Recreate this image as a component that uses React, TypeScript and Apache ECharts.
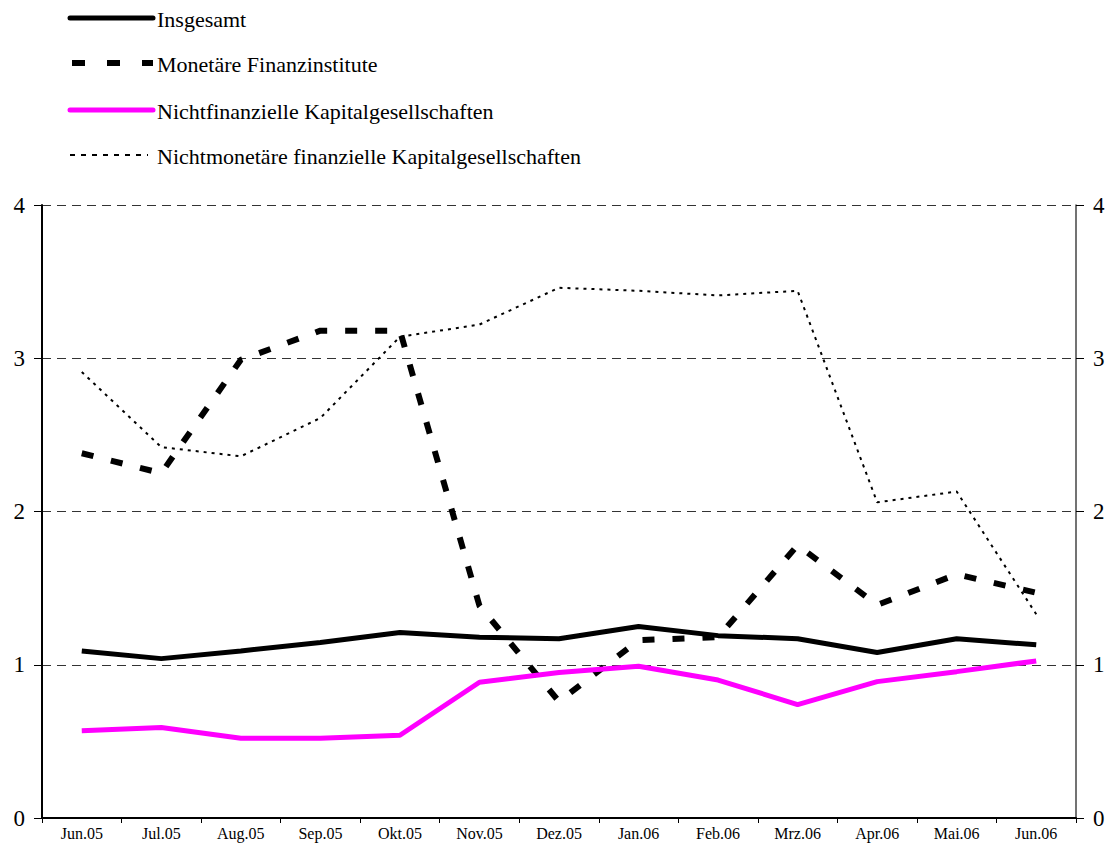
import React, { useEffect, useRef } from "react";
import * as echarts from "echarts";

const categories = ["Jun.05", "Jul.05", "Aug.05", "Sep.05", "Okt.05", "Nov.05", "Dez.05", "Jan.06", "Feb.06", "Mrz.06", "Apr.06", "Mai.06", "Jun.06"];
const insgesamt = [1.09, 1.04, 1.09, 1.145, 1.21, 1.18, 1.17, 1.25, 1.19, 1.17, 1.08, 1.17, 1.13];
const monetaere = [2.38, 2.25, 2.99, 3.18, 3.18, 1.385, 0.76, 1.16, 1.18, 1.78, 1.39, 1.59, 1.47];
const nichtfinanzielle = [0.57, 0.59, 0.52, 0.52, 0.54, 0.886, 0.95, 0.99, 0.9, 0.74, 0.89, 0.955, 1.025];
const nichtmonetaere = [2.91, 2.42, 2.36, 2.61, 3.14, 3.22, 3.46, 3.44, 3.41, 3.44, 2.06, 2.13, 1.33];
const names = ["Insgesamt", "Monetäre Finanzinstitute", "Nichtfinanzielle Kapitalgesellschaften", "Nichtmonetäre finanzielle Kapitalgesellschaften"];

const FONT = "'Liberation Serif', 'Times New Roman', serif";

const lineStyles = [
  { color: "#000", width: 5, type: "solid" as any },
  { color: "#000", width: 6, type: [12, 18] as any },
  { color: "#ff00ff", width: 5, type: "solid" as any },
  { color: "#000", width: 2, type: [3, 5] as any },
];

export default function App() {
  const ref = useRef<HTMLDivElement>(null);
  useEffect(() => {
    if (!ref.current) return;
    const chart = echarts.init(ref.current, null, { renderer: "svg" });
    const yAxisCommon = {
      type: "value",
      min: 0,
      max: 4,
      interval: 1,
      axisLabel: { color: "#000", fontFamily: FONT, fontSize: 23, margin: 17 },
      axisTick: { show: true, inside: false, length: 8, lineStyle: { color: "#000", width: 1 } },
    };
    const legendRowsY = [18, 63, 110, 155];
    const legendGraphics: any[] = [];
    names.forEach((n, i) => {
      const ls = lineStyles[i];
      const dash = Array.isArray(ls.type) ? ls.type : null;
      legendGraphics.push({
        type: "line",
        shape: { x1: i === 1 ? 72 : 70, y1: legendRowsY[i], x2: i === 3 ? 148 : 153, y2: legendRowsY[i] },
        style: { stroke: ls.color, lineWidth: ls.width, lineDash: i === 1 ? [13, 22] : i === 3 ? [5, 6] : dash, lineCap: i === 0 || i === 2 ? "round" : "butt" },
      });
      legendGraphics.push({
        type: "text",
        x: 157,
        y: legendRowsY[i] + 1,
        style: { text: n, fill: "#000", font: `22px ${FONT}`, textVerticalAlign: "middle", verticalAlign: "middle" },
      });
    });
    chart.setOption({
      animation: false,
      backgroundColor: "#fff",
      textStyle: { fontFamily: FONT },
      graphic: legendGraphics,
      grid: { left: 42, right: 39, top: 205, bottom: 32, containLabel: false },
      xAxis: {
        type: "category",
        data: categories,
        boundaryGap: true,
        axisLine: { show: true, lineStyle: { color: "#000", width: 2 } },
        axisTick: { show: true, length: 5, lineStyle: { color: "#000", width: 1 } },
        axisLabel: { color: "#000", fontFamily: FONT, fontSize: 16, margin: 7, interval: 0 },
      },
      yAxis: [
        {
          ...yAxisCommon,
          position: "left",
          axisLine: { show: true, lineStyle: { color: "#000", width: 2 } },
          splitLine: { show: true, lineStyle: { color: "#333", width: 1, type: [9, 6] } },
        },
        {
          ...yAxisCommon,
          position: "right",
          axisLine: { show: true, lineStyle: { color: "#444", width: 1.5 } },
          splitLine: { show: false },
        },
      ],
      series: [
        { name: names[0], type: "line", data: insgesamt, symbol: "none", lineStyle: lineStyles[0], z: 4 },
        { name: names[1], type: "line", data: monetaere, symbol: "none", lineStyle: lineStyles[1], z: 3 },
        { name: names[2], type: "line", data: nichtfinanzielle, symbol: "none", lineStyle: lineStyles[2], z: 5 },
        { name: names[3], type: "line", data: nichtmonetaere, symbol: "none", lineStyle: lineStyles[3], z: 2 },
      ],
    });
    return () => chart.dispose();
  }, []);
  return <div ref={ref} style={{ position: "absolute", left: 0, top: 0, width: 1115, height: 850 }} />;
}
